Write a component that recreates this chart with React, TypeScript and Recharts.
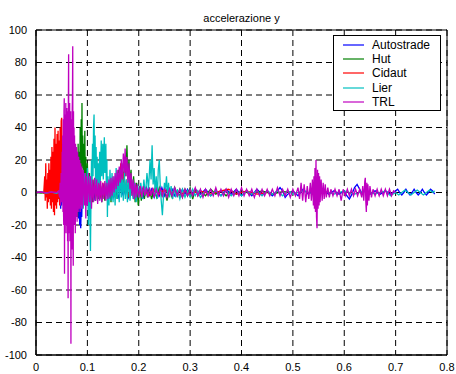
import { LineChart, Line, XAxis, YAxis, CartesianGrid, ReferenceArea } from 'recharts';

type Pt = [number, number];

// acceleration traces, [time s, acc]
const autostrade: Pt[] = [
  [0, 0], [0.01, 0.3], [0.02, -0.2], [0.03, 0.5], [0.035, -0.5], [0.04, 1], [0.042, -2], [0.044, 2], [0.046, -5],
  [0.047, 3], [0.048, -10], [0.049, 4], [0.05, -8], [0.052, 5], [0.054, -6], [0.056, 6], [0.058, -4], [0.06, 8],
  [0.062, -7], [0.064, 5], [0.066, -5], [0.068, 6], [0.07, -8], [0.072, 4], [0.074, -10], [0.076, 5], [0.078, -12],
  [0.08, 3], [0.082, -6], [0.083, -16], [0.084, -4], [0.085, -20], [0.086, -8], [0.087, -22], [0.088, -10],
  [0.089, -15], [0.09, -2], [0.092, 6], [0.094, -6], [0.096, 8], [0.098, -4], [0.1, 5], [0.103, -5], [0.106, 6],
  [0.109, -4], [0.112, 4], [0.115, -5], [0.118, 5], [0.121, -3], [0.124, 4], [0.127, -4], [0.13, 5], [0.134, -3],
  [0.138, 4], [0.142, -4], [0.146, 3], [0.15, -3], [0.155, 2], [0.16, -3], [0.165, 3], [0.17, -2], [0.175, 4],
  [0.18, -3], [0.185, 2], [0.19, -3], [0.195, 3], [0.2, -2], [0.205, 2], [0.21, -3], [0.215, 3], [0.22, -2],
  [0.225, 2], [0.23, -3], [0.235, 2], [0.24, -2], [0.245, 3], [0.25, -2], [0.255, 2], [0.26, -1], [0.265, 2],
  [0.27, -2], [0.275, 1], [0.28, -2], [0.285, 2], [0.29, -1], [0.295, 2], [0.3, -2], [0.31, 2], [0.32, -1],
  [0.33, 2], [0.34, -2], [0.35, 1], [0.36, -2], [0.37, 2], [0.38, -1], [0.39, 2], [0.4, -2], [0.41, 1], [0.42, -2],
  [0.43, 2], [0.44, -1], [0.45, 1], [0.46, -2], [0.47, 1], [0.475, 3], [0.48, 1], [0.485, -3], [0.49, -1],
  [0.5, 1], [0.51, -2], [0.52, 2], [0.53, -1], [0.54, 2], [0.55, -2], [0.56, 1], [0.57, -1], [0.58, 1],
  [0.59, -1], [0.6, 1], [0.605, -2], [0.61, -4], [0.615, -1], [0.62, 3], [0.625, 5], [0.63, 2], [0.635, -1],
  [0.64, 1], [0.65, -1], [0.66, 1], [0.67, -1], [0.68, 1], [0.69, -1], [0.7, 1], [0.704, 2], [0.708, 0],
  [0.712, -1.5], [0.716, 0], [0.72, 2], [0.724, 0], [0.728, -1.5], [0.732, 0], [0.736, 2], [0.74, 0],
  [0.744, -1.5], [0.748, 0], [0.752, 2], [0.756, 0], [0.76, -1.5], [0.764, 0], [0.768, 2], [0.772, 1], [0.776, -1],
];

const hut: Pt[] = [
  [0, 0], [0.01, -0.3], [0.02, 0.3], [0.03, -0.3], [0.04, 0.5], [0.045, -1], [0.05, 2], [0.055, -3], [0.06, 4],
  [0.065, -5], [0.068, 6], [0.071, -6], [0.074, 10], [0.076, -8], [0.078, 15], [0.079, -12], [0.08, 20],
  [0.081, -15], [0.082, 30], [0.083, -8], [0.084, 25], [0.085, -5], [0.086, 40], [0.087, 10], [0.088, 45],
  [0.089, 15], [0.0895, 55], [0.09, 20], [0.091, 35], [0.092, 5], [0.093, 30], [0.094, 0], [0.095, 38],
  [0.096, 2], [0.097, 22], [0.098, -3], [0.1, 18], [0.102, -6], [0.104, 12], [0.106, -5], [0.108, 10],
  [0.11, -6], [0.113, 8], [0.116, -5], [0.119, 6], [0.122, -4], [0.125, 5], [0.128, -6], [0.131, 4],
  [0.134, -5], [0.137, 6], [0.14, -4], [0.143, 5], [0.146, -6], [0.149, 8], [0.152, -3], [0.155, 10],
  [0.158, -4], [0.161, 14], [0.164, 2], [0.167, 18], [0.17, 6], [0.173, 22], [0.175, 10], [0.177, 29],
  [0.179, 8], [0.181, 20], [0.183, 3], [0.185, 14], [0.187, -2], [0.19, 10], [0.193, -6], [0.196, 6],
  [0.199, -8], [0.202, 4], [0.205, -5], [0.208, 3], [0.211, -4], [0.214, 3], [0.217, -3], [0.22, 3],
  [0.225, -4], [0.23, 2], [0.235, -3], [0.24, 3], [0.245, -2], [0.25, 2], [0.255, -5], [0.26, 2], [0.265, -3],
  [0.27, 3], [0.275, -2], [0.28, 2], [0.285, -3], [0.29, 2], [0.295, -2], [0.3, 3], [0.305, -4], [0.31, 2],
  [0.315, -2], [0.32, 1], [0.33, -2], [0.34, 2], [0.35, -1], [0.36, 1], [0.37, -2], [0.38, 1], [0.39, -1],
  [0.4, 1], [0.42, -1], [0.44, 1], [0.46, -1], [0.48, 0.5], [0.5, 0],
];

const cidaut: Pt[] = [
  [0, 0], [0.01, 0.3], [0.015, -0.5], [0.017, 10], [0.018, -5], [0.019, 18], [0.02, -3], [0.021, 8],
  [0.022, -10], [0.023, 12], [0.024, -6], [0.025, 18], [0.026, -4], [0.027, 14], [0.028, -8], [0.029, 22],
  [0.03, -10], [0.031, 28], [0.032, -6], [0.033, 25], [0.034, -12], [0.035, 33], [0.036, -14], [0.037, 40],
  [0.038, -8], [0.039, 30], [0.04, -10], [0.041, 36], [0.042, -6], [0.043, 38], [0.044, -4], [0.045, 32],
  [0.046, -8], [0.047, 40], [0.048, -5], [0.049, 44], [0.05, 46], [0.051, -3], [0.052, 30], [0.053, -6],
  [0.054, 25], [0.055, -10], [0.056, 20], [0.057, -5], [0.058, 22], [0.06, -8], [0.062, 18], [0.064, -6],
  [0.066, 15], [0.068, -10], [0.07, 12], [0.072, -8], [0.074, 10], [0.076, -12], [0.078, 8], [0.08, -6],
  [0.082, 6], [0.085, -5], [0.088, 5], [0.091, -4], [0.094, 6], [0.097, -3], [0.1, 5], [0.103, -4],
  [0.106, 4], [0.11, -3], [0.114, 6], [0.118, -2], [0.122, 8], [0.126, -3], [0.13, 6], [0.134, -2],
  [0.138, 5], [0.142, -3], [0.146, 6], [0.15, -2], [0.155, 8], [0.158, 0], [0.161, 12], [0.163, 2],
  [0.165, 18], [0.167, 4], [0.17, 12], [0.173, 0], [0.176, 8], [0.18, -3], [0.185, 5], [0.19, -2],
  [0.195, 3], [0.2, -2], [0.21, 2], [0.22, -2], [0.23, 2], [0.24, -1], [0.25, 2], [0.26, -1], [0.27, 1],
  [0.28, -2], [0.29, 1], [0.3, -1], [0.32, 1], [0.34, -1], [0.36, 1], [0.375, 2], [0.39, -1], [0.41, 1],
  [0.43, -1], [0.45, 0],
];

const lier: Pt[] = [
  [0, 0], [0.01, 0.2], [0.02, -0.3], [0.03, 0.2], [0.04, -0.5], [0.05, 1], [0.055, -2], [0.06, 2], [0.065, -3],
  [0.07, 3], [0.075, -4], [0.08, 5], [0.084, -6], [0.088, 8], [0.092, -10], [0.095, 12], [0.098, -8],
  [0.1, 15], [0.102, -20], [0.104, 10], [0.106, -36], [0.107, -5], [0.108, 20], [0.109, 5], [0.11, 30],
  [0.111, 10], [0.112, 40], [0.113, 48], [0.114, 15], [0.115, 35], [0.116, 5], [0.117, 28], [0.118, 0],
  [0.119, 22], [0.12, -5], [0.121, 18], [0.122, 2], [0.124, 25], [0.125, 5], [0.127, 32], [0.128, 10],
  [0.13, 30], [0.131, 8], [0.133, 34], [0.134, 12], [0.136, 30], [0.137, -2], [0.138, 20], [0.139, -15],
  [0.14, 10], [0.142, -8], [0.144, 14], [0.146, -5], [0.148, 12], [0.15, -6], [0.152, 10], [0.154, -8],
  [0.156, 15], [0.158, -4], [0.16, 12], [0.162, -6], [0.164, 14], [0.166, -3], [0.168, 10], [0.17, -5],
  [0.172, 12], [0.174, -4], [0.176, 8], [0.178, -6], [0.18, 10], [0.183, -5], [0.186, 8], [0.189, -4],
  [0.192, 6], [0.195, -6], [0.198, 5], [0.201, -3], [0.204, 6], [0.207, -4], [0.21, 8], [0.213, -2],
  [0.216, 12], [0.219, 2], [0.222, 20], [0.224, 8], [0.226, 29], [0.228, 5], [0.23, 15], [0.232, -2],
  [0.234, 10], [0.236, -4], [0.238, 14], [0.24, 20], [0.242, 3], [0.244, -6], [0.246, -14], [0.248, -3],
  [0.25, 6], [0.252, 2], [0.254, 10], [0.256, -2], [0.258, 6], [0.26, -3], [0.263, 4], [0.266, -4],
  [0.269, 3], [0.272, -3], [0.275, 2], [0.28, -4], [0.285, 2], [0.29, -3], [0.295, 1], [0.3, -3], [0.305, 2],
  [0.31, -2], [0.315, 1], [0.32, -3], [0.33, 1], [0.34, -2], [0.35, 1], [0.36, -2], [0.37, 1], [0.38, -2],
  [0.39, 1], [0.4, -2], [0.41, 1], [0.42, -1], [0.43, 1], [0.44, -2], [0.45, 1], [0.46, -1], [0.47, 1],
  [0.48, -2], [0.49, 1], [0.5, -1], [0.52, 1], [0.54, -1], [0.56, 1], [0.58, -1], [0.6, 1], [0.62, -1],
  [0.64, 1], [0.66, -1], [0.68, 1], [0.69, -2], [0.7, 0], [0.706, -1.5], [0.712, 0], [0.718, 1.5], [0.724, 0],
  [0.73, -1.5], [0.736, 0], [0.742, 1.5], [0.748, 0], [0.754, -1.5], [0.76, 0], [0.766, 1.5], [0.772, 0],
  [0.776, 1],
];

const trl: Pt[] = [
  [0, 0], [0.01, 0.3], [0.02, -0.2], [0.03, 0.3], [0.04, 0], [0.044, 1], [0.046, -3], [0.047, 6], [0.048, -8],
  [0.049, 12], [0.05, -6], [0.051, 25], [0.0515, -5], [0.052, 35], [0.0525, -12], [0.053, 45], [0.0535, -10],
  [0.054, -20], [0.0545, 50], [0.055, 58], [0.0555, -50], [0.056, 30], [0.0565, -10], [0.057, 48], [0.0575, -20],
  [0.058, 55], [0.0585, -25], [0.059, 40], [0.0595, -15], [0.06, 52], [0.0605, -20], [0.061, 45], [0.0615, -30],
  [0.062, 50], [0.0625, -65], [0.063, 55], [0.0635, 85], [0.064, -20], [0.0645, 40], [0.065, -25], [0.0655, 55],
  [0.066, -30], [0.0665, 45], [0.067, -20], [0.0675, 50], [0.068, -93], [0.0685, 35], [0.069, 45], [0.0695, -25],
  [0.07, -35], [0.0705, 50], [0.071, 60], [0.0715, 90], [0.072, -30], [0.0725, -45], [0.073, 50], [0.0735, -15],
  [0.074, 40], [0.0745, -20], [0.075, 35], [0.0755, -10], [0.076, 30], [0.0765, -25], [0.077, 30], [0.0775, -12],
  [0.078, 20], [0.0785, -15], [0.079, 28], [0.08, -18], [0.081, 25], [0.082, -12], [0.083, 22],
  [0.084, -10], [0.085, 20], [0.086, -12], [0.087, 18], [0.088, -8], [0.089, 16], [0.09, -10], [0.092, 14],
  [0.094, -8], [0.096, 12], [0.097, -16], [0.098, 10], [0.1, -8], [0.102, 12], [0.104, -6], [0.106, 10],
  [0.108, -10], [0.11, 8], [0.112, -6], [0.114, 9], [0.116, -5], [0.118, 8], [0.12, -7], [0.122, 6],
  [0.124, -5], [0.126, 7], [0.128, -6], [0.13, 6], [0.132, -4], [0.134, 7], [0.136, -5], [0.138, 6],
  [0.14, -4], [0.142, 8], [0.144, -3], [0.146, 9], [0.148, -2], [0.15, 10], [0.152, 0], [0.154, 12],
  [0.156, 2], [0.158, 14], [0.16, 4], [0.162, 16], [0.164, 6], [0.166, 20], [0.168, 8], [0.17, 24],
  [0.172, 12], [0.1735, 27], [0.175, 10], [0.177, 22], [0.179, 6], [0.181, 18], [0.183, 2], [0.185, 12],
  [0.187, -2], [0.189, 8], [0.191, -4], [0.193, 6], [0.195, -3], [0.197, 5], [0.2, -3], [0.203, 4],
  [0.206, -3], [0.209, 4], [0.212, -2], [0.215, 3], [0.218, -3], [0.221, 3], [0.224, -2], [0.227, 3],
  [0.23, -3], [0.234, 2], [0.238, -2], [0.242, 3], [0.246, -2], [0.25, 2], [0.255, -3], [0.26, 2],
  [0.265, -2], [0.27, 3], [0.275, -2], [0.28, 2], [0.285, -3], [0.29, 2], [0.295, -2], [0.3, 2], [0.305, -2],
  [0.31, 3], [0.315, -2], [0.32, 2], [0.325, -3], [0.33, 2], [0.335, -2], [0.34, 2], [0.345, -2], [0.35, 3],
  [0.355, -2], [0.36, 2], [0.365, -2], [0.37, 2], [0.375, -3], [0.38, 2], [0.385, -2], [0.39, 2], [0.395, -2],
  [0.4, 3], [0.405, -2], [0.41, 2], [0.415, -2], [0.42, 2], [0.425, -3], [0.43, 2], [0.435, -2], [0.44, 2],
  [0.445, -2], [0.45, 2], [0.455, -2], [0.46, 2], [0.465, -2], [0.47, 3], [0.475, -2], [0.48, 2], [0.485, -2],
  [0.49, 2], [0.495, -3], [0.5, 2], [0.505, -2], [0.51, 3], [0.513, -4], [0.516, 6], [0.519, -5], [0.522, 5],
  [0.525, -6], [0.528, 4], [0.531, -4], [0.534, 6], [0.536, -5], [0.538, 8], [0.54, -8], [0.541, 10],
  [0.542, -10], [0.543, 15], [0.544, -12], [0.545, 20], [0.546, -15], [0.547, -22], [0.548, 14], [0.549, -10],
  [0.55, 12], [0.551, -8], [0.552, 10], [0.553, -6], [0.555, 8], [0.557, -5], [0.559, 6], [0.561, -4],
  [0.563, 5], [0.565, -3], [0.568, 3], [0.571, -3], [0.574, 2], [0.578, -2], [0.582, 2], [0.586, -2],
  [0.59, 2], [0.594, -5], [0.598, 2], [0.602, -2], [0.606, 2], [0.61, -2], [0.614, 2], [0.618, -2],
  [0.622, 2], [0.626, -2], [0.63, 2], [0.634, -3], [0.636, 4], [0.638, -5], [0.64, 7], [0.641, 9],
  [0.642, -6], [0.643, -12], [0.644, 6], [0.645, -8], [0.646, 5], [0.648, -5], [0.65, 4], [0.653, -3],
  [0.656, 2], [0.66, -2], [0.664, 2], [0.668, -2], [0.672, 2], [0.676, -2], [0.68, 2], [0.684, -2],
  [0.688, 2], [0.692, -2], [0.696, 1], [0.7, 0],
];

const xTicks = [0, 0.1, 0.2, 0.3, 0.4, 0.5, 0.6, 0.7, 0.8];
const yTicks = [-100, -80, -60, -40, -20, 0, 20, 40, 60, 80, 100];

const series = [
  { name: 'Autostrade', color: '#0000ff', points: autostrade },
  { name: 'Hut', color: '#008000', points: hut },
  { name: 'Cidaut', color: '#ff0000', points: cidaut },
  { name: 'Lier', color: '#00bfbf', points: lier },
  { name: 'TRL', color: '#bf00bf', points: trl },
];

const font = 'Arial, "Liberation Sans", sans-serif';

function LegendBox() {
  return (
    <div
      style={{
        position: 'absolute',
        left: 333,
        top: 35,
        width: 106,
        border: '1px solid #000',
        background: '#fff',
        padding: '2px 0 1px 0',
        fontFamily: font,
        fontSize: 12,
        lineHeight: '14.2px',
        color: '#000',
      }}
    >
      {series.map((s) => (
        <div key={s.name} style={{ display: 'flex', alignItems: 'center', height: 14.2 }}>
          <svg width={38} height={14} style={{ display: 'block' }}>
            <line x1={9} x2={30} y1={7} y2={7} stroke={s.color} strokeWidth={1.2} />
          </svg>
          <span>{s.name}</span>
        </div>
      ))}
    </div>
  );
}

export default function App() {
  return (
    <div style={{ position: 'absolute', left: 0, top: 0, width: 456, height: 374, background: '#fff' }}>
      <div
        style={{
          position: 'absolute',
          left: 36,
          top: 12,
          width: 411,
          textAlign: 'center',
          fontFamily: font,
          fontSize: 11,
          color: '#000',
        }}
      >
        accelerazione y
      </div>
      <LineChart width={456} height={374} margin={{ top: 30, right: 9, left: 6, bottom: 0 }}>
        <CartesianGrid stroke="#000" strokeDasharray="6 4" />
        <XAxis
          type="number"
          dataKey="t"
          domain={[0, 0.8]}
          ticks={xTicks}
          tickLine={false}
          axisLine={{ stroke: '#000' }}
          height={19}
          tickMargin={2}
          tick={{ fill: '#000', fontSize: 11, fontFamily: font }}
          allowDataOverflow
        />
        <YAxis
          type="number"
          domain={[-100, 100]}
          ticks={yTicks}
          tickLine={false}
          axisLine={{ stroke: '#000' }}
          width={30}
          tickMargin={3}
          tick={{ fill: '#000', fontSize: 11, fontFamily: font }}
          allowDataOverflow
        />
        <ReferenceArea x1={0} x2={0.8} y1={-100} y2={100} fill="none" fillOpacity={0} stroke="#000" strokeWidth={1} />
        {series.map((s) => (
          <Line
            key={s.name}
            data={s.points.map(([t, v]) => ({ t, v }))}
            dataKey="v"
            name={s.name}
            type="linear"
            stroke={s.color}
            strokeWidth={1.3}
            dot={false}
            activeDot={false}
            isAnimationActive={false}
          />
        ))}
      </LineChart>
      <LegendBox />
    </div>
  );
}
